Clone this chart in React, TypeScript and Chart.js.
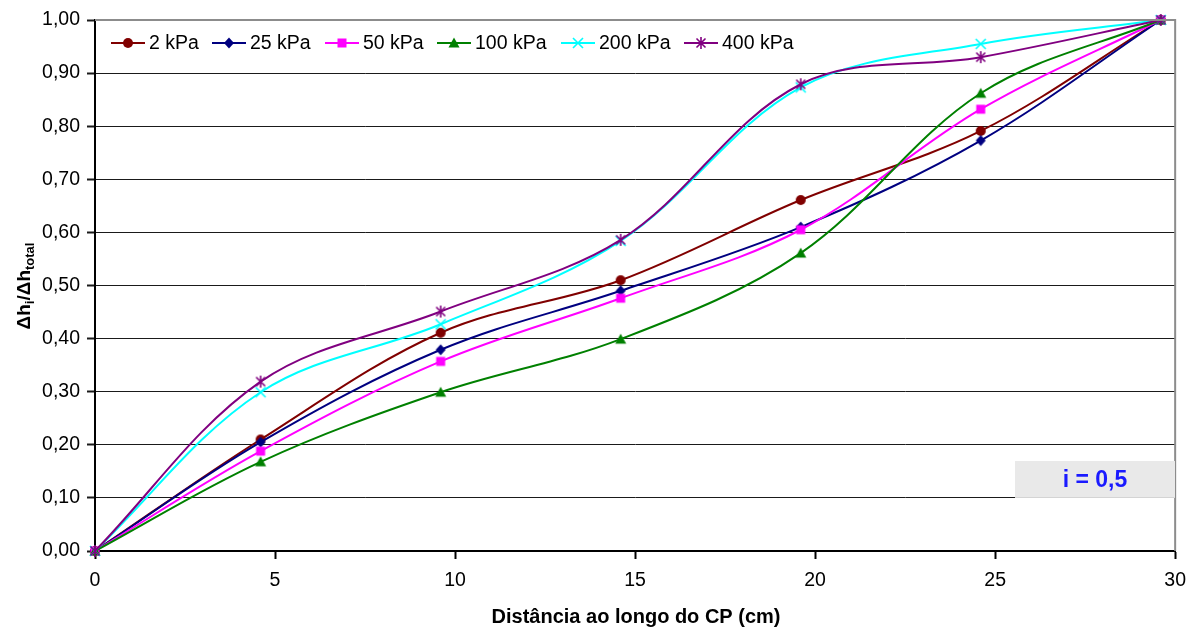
import React, { useEffect, useRef } from "react";
import { Chart, registerables } from "chart.js";

Chart.register(...registerables);

const xValues = [0, 4.6, 9.6, 14.6, 19.6, 24.6, 29.6];
const seriesLabels = ["2 kPa", "25 kPa", "50 kPa", "100 kPa", "200 kPa", "400 kPa"];
const s2kPa = [0, 0.21, 0.411, 0.51, 0.661, 0.791, 1.0];
const s25kPa = [0, 0.205, 0.379, 0.49, 0.61, 0.773, 1.0];
const s50kPa = [0, 0.188, 0.357, 0.476, 0.605, 0.832, 1.0];
const s100kPa = [0, 0.168, 0.299, 0.399, 0.561, 0.862, 1.0];
const s200kPa = [0, 0.299, 0.427, 0.584, 0.873, 0.955, 1.0];
const s400kPa = [0, 0.319, 0.451, 0.586, 0.879, 0.93, 1.0];
const xTicks = [0, 5, 10, 15, 20, 25, 30];
const yTicks = [0, 0.1, 0.2, 0.3, 0.4, 0.5, 0.6, 0.7, 0.8, 0.9, 1.0];
const annotationText = "i = 0,5";

const colors = ["#800000", "#000080", "#ff00ff", "#008000", "#00ffff", "#800080"];
const markerKinds = ["circle", "diamond", "square", "triangle", "x", "star"];
const allSeries = [s2kPa, s25kPa, s50kPa, s100kPa, s200kPa, s400kPa];

function drawMarker(g: CanvasRenderingContext2D, kind: string, color: string, x: number, y: number) {
  g.save();
  g.fillStyle = color;
  g.strokeStyle = color;
  g.lineWidth = 1.6;
  g.beginPath();
  if (kind === "circle") {
    g.arc(x, y, 5, 0, Math.PI * 2);
    g.fill();
  } else if (kind === "diamond") {
    g.moveTo(x, y - 5.5); g.lineTo(x + 5, y); g.lineTo(x, y + 5.5); g.lineTo(x - 5, y); g.closePath();
    g.fill();
  } else if (kind === "square") {
    g.rect(x - 4.5, y - 4.5, 9, 9);
    g.fill();
  } else if (kind === "triangle") {
    g.moveTo(x, y - 5.5); g.lineTo(x + 5.5, y + 4.5); g.lineTo(x - 5.5, y + 4.5); g.closePath();
    g.fill();
  } else if (kind === "x") {
    g.moveTo(x - 5, y - 5); g.lineTo(x + 5, y + 5);
    g.moveTo(x + 5, y - 5); g.lineTo(x - 5, y + 5);
    g.stroke();
  } else {
    g.moveTo(x - 4.5, y - 4.5); g.lineTo(x + 4.5, y + 4.5);
    g.moveTo(x + 4.5, y - 4.5); g.lineTo(x - 4.5, y + 4.5);
    g.moveTo(x, y - 6); g.lineTo(x, y + 6);
    g.stroke();
  }
  g.restore();
}

function makeMarkerCanvas(kind: string, color: string) {
  const c = document.createElement("canvas");
  c.width = 16;
  c.height = 16;
  const g = c.getContext("2d")!;
  drawMarker(g, kind, color, 8, 8);
  return c;
}

const FONT = "'Liberation Sans', Arial, sans-serif";

export default function App() {
  const ref = useRef<HTMLCanvasElement | null>(null);

  useEffect(() => {
    const canvas = ref.current;
    if (!canvas) return;

    const datasets = allSeries.map((vals, i) => ({
      label: seriesLabels[i],
      data: vals.map((v, j) => ({ x: xValues[j], y: v })),
      borderColor: colors[i],
      backgroundColor: colors[i],
      borderWidth: 2,
      pointStyle: makeMarkerCanvas(markerKinds[i], colors[i]),
      pointRadius: 6,
      tension: 0.35,
      clip: false as any,
      order: 5 - i,
    }));

    const decor = {
      id: "decor",
      afterDraw(chart: any) {
        const ctx = chart.ctx;
        const ca = chart.chartArea;
        ctx.save();
        ctx.strokeStyle = "#8c8c8c";
        ctx.lineWidth = 2;
        ctx.beginPath();
        ctx.moveTo(ca.left, ca.top);
        ctx.lineTo(ca.right, ca.top);
        ctx.lineTo(ca.right, ca.bottom);
        ctx.stroke();

        const yS = chart.scales.y;
        const bx = 1015, bw = 160;
        const by = 461;
        const bh = yS.getPixelForValue(0.1) - by;
        ctx.fillStyle = "#e9e9e9";
        ctx.fillRect(bx, by, bw, bh);
        ctx.fillStyle = "#1a1aff";
        ctx.font = `bold 23px ${FONT}`;
        ctx.textAlign = "center";
        ctx.textBaseline = "middle";
        ctx.fillText(annotationText, bx + bw / 2, by + bh / 2 + 1);

        const lineStarts = [111, 212, 325, 437, 561, 684];
        const ly = 43;
        ctx.font = `19.5px ${FONT}`;
        ctx.textAlign = "left";
        ctx.textBaseline = "middle";
        seriesLabels.forEach((lab, i) => {
          const x0 = lineStarts[i];
          ctx.strokeStyle = colors[i];
          ctx.lineWidth = 2;
          ctx.beginPath();
          ctx.moveTo(x0, ly);
          ctx.lineTo(x0 + 34, ly);
          ctx.stroke();
          drawMarker(ctx, markerKinds[i], colors[i], x0 + 17, ly);
          ctx.fillStyle = "#000";
          ctx.fillText(lab, x0 + 38, ly + 1);
        });

        ctx.font = `bold 20px ${FONT}`;
        ctx.textAlign = "center";
        ctx.textBaseline = "middle";
        ctx.fillStyle = "#000";
        ctx.fillText("Distância ao longo do CP (cm)", 636, 617);

        ctx.translate(24, 286);
        ctx.rotate(-Math.PI / 2);
        const parts = [
          { t: "Δh", sub: false },
          { t: "i", sub: true },
          { t: "/Δh", sub: false },
          { t: "total", sub: true },
        ];
        const bigF = `bold 19px ${FONT}`;
        const smallF = `bold 13px ${FONT}`;
        let total = 0;
        parts.forEach((p) => {
          ctx.font = p.sub ? smallF : bigF;
          total += ctx.measureText(p.t).width;
        });
        let px = -total / 2;
        ctx.textAlign = "left";
        ctx.textBaseline = "alphabetic";
        parts.forEach((p) => {
          ctx.font = p.sub ? smallF : bigF;
          ctx.fillText(p.t, px, p.sub ? 10 : 6);
          px += ctx.measureText(p.t).width;
        });
        ctx.restore();
      },
    };

    const chart = new Chart(canvas, {
      type: "line",
      data: { datasets },
      options: {
        animation: false,
        responsive: false,
        maintainAspectRatio: false,
        layout: { padding: { left: 0, right: 19, top: 20, bottom: 0 } },
        plugins: { legend: { display: false }, tooltip: { enabled: false } },
        scales: {
          x: {
            type: "linear",
            min: 0,
            max: 30,
            afterFit(s: any) { s.height = 77; },
            afterBuildTicks(s: any) { s.ticks = xTicks.map((v) => ({ value: v })); },
            grid: { drawOnChartArea: false, drawTicks: true, tickLength: 8, color: "#000", tickWidth: 2 },
            border: { color: "#000", width: 2 },
            ticks: { color: "#000", font: { family: FONT, size: 19.5 }, padding: 10, maxRotation: 0 },
          },
          y: {
            type: "linear",
            min: 0,
            max: 1,
            afterFit(s: any) { s.width = 95; },
            afterBuildTicks(s: any) { s.ticks = yTicks.map((v) => ({ value: v })); },
            grid: { drawOnChartArea: true, drawTicks: true, tickLength: 8, color: "#1a1a1a", lineWidth: 1, tickWidth: 2 } as any,
            border: { color: "#000", width: 2 },
            ticks: {
              color: "#000",
              font: { family: FONT, size: 19.5 },
              padding: 7,
              callback: (v: any) => Number(v).toFixed(2).replace(".", ","),
            },
          },
        },
      },
      plugins: [decor],
    } as any);
    return () => chart.destroy();
  }, []);

  return (
    <div style={{ position: "fixed", left: 0, top: 0, width: 1196, height: 628, background: "#fff" }}>
      <canvas ref={ref} width={1196} height={628} style={{ width: 1196, height: 628 }} />
    </div>
  );
}
